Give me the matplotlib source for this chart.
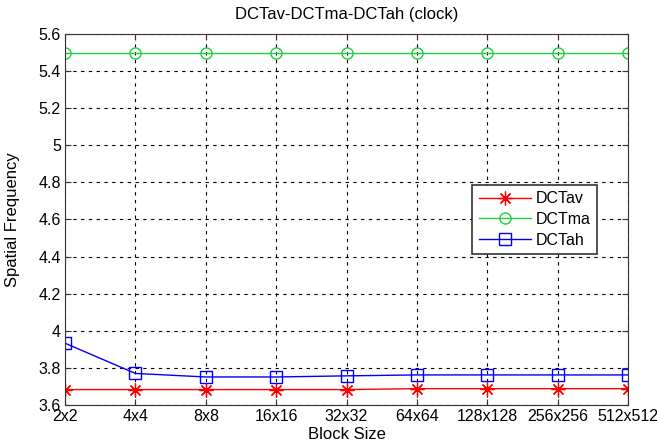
import matplotlib
matplotlib.use("Agg")
import matplotlib.pyplot as plt
import numpy as np

block_sizes = ["2x2", "4x4", "8x8", "16x16", "32x32", "64x64", "128x128", "256x256", "512x512"]
dct_av = [3.683, 3.683, 3.683, 3.683, 3.683, 3.688, 3.688, 3.688, 3.688]
dct_ma = [5.5, 5.5, 5.5, 5.5, 5.5, 5.5, 5.5, 5.5, 5.5]
dct_ah = [3.933, 3.770, 3.751, 3.751, 3.757, 3.762, 3.762, 3.762, 3.762]

plt.rcParams["font.family"] = ["Liberation Sans", "DejaVu Sans"]
tick_fs = 11.5
label_fs = 12

fig = plt.figure(figsize=(6.57, 4.47), dpi=100)
ax = fig.add_axes([0.099, 0.094, 0.857, 0.83])

x = np.arange(1, len(block_sizes) + 1)
# matlab-like asterisk: 8 spokes
ax.plot(x, dct_av, color="red", marker=(8, 2, 0), markersize=10, markeredgewidth=0.9,
        linewidth=1, label="DCTav")
ax.plot(x, dct_ma, color="#22cc44", marker="o", markersize=8, markerfacecolor="none",
        linewidth=1, label="DCTma")
ax.plot(x, dct_ah, color="blue", marker="s", markersize=9, markerfacecolor="none",
        linewidth=1, label="DCTah")

ax.set_xlim(1, len(block_sizes))
ax.set_ylim(3.6, 5.6)
ax.set_xticks(x)
ax.set_xticklabels(block_sizes)
yt = np.round(np.arange(3.6, 5.61, 0.2), 1)
ax.set_yticks(yt)
ax.set_yticklabels([f"{v:g}" for v in yt])
ax.tick_params(labelsize=tick_fs, direction="in", length=4, color="#333333",
               top=True, right=True, pad=3)
ax.grid(True, color="black", linestyle=(0, (3, 4)), linewidth=0.8)
for s in ax.spines.values():
    s.set_color("#333333")

ax.set_title("DCTav-DCTma-DCTah (clock)", fontsize=label_fs, pad=11)
ax.set_xlabel("Block Size", fontsize=label_fs, labelpad=2)
ax.set_ylabel("Spatial Frequency", fontsize=label_fs, labelpad=13)

leg = ax.legend(loc="upper left", bbox_to_anchor=(0.723, 0.593), borderaxespad=0,
                fontsize=tick_fs, fancybox=False, framealpha=1, edgecolor="#333333",
                handlelength=3.3, handletextpad=0.3, borderpad=0.4, labelspacing=0.35)
leg.get_frame().set_linewidth(1.2)

fig.savefig("out.png", dpi=100)
